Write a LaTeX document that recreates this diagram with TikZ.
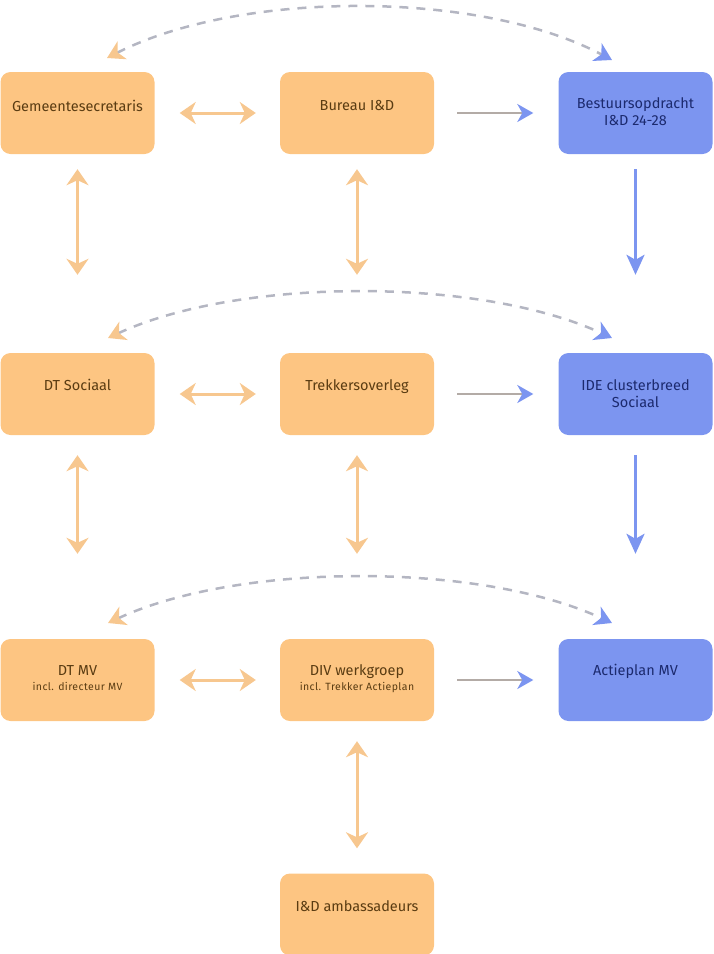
\documentclass[tikz,border=0pt]{standalone}
\usepackage{fontspec}
\setmainfont{Fira Sans}
\usetikzlibrary{arrows.meta}

\definecolor{boxorange}{HTML}{FDC582}
\definecolor{arroworange}{HTML}{F7C78F}
\definecolor{boxblue}{HTML}{7C95F0}
\definecolor{textbrown}{HTML}{5A3C12}
\definecolor{textnavy}{HTML}{1C2A6E}
\definecolor{dashgray}{HTML}{B4B6C2}
\definecolor{shaftgray}{HTML}{B3ABA6}

\newcommand{\inclnote}[1]{{\fontsize{10.5}{12}\selectfont\addfontfeature{LetterSpace=4}#1}}

\begin{document}
\begin{tikzpicture}[
    x=1pt, y=-1pt,
    box/.style={rectangle, rounded corners=10pt, fill=boxorange,
        minimum width=154pt, minimum height=82pt, inner sep=2pt,
        text=textbrown, font=\fontsize{14.5}{17}\selectfont, align=center},
    bluebox/.style={box, fill=boxblue, text=textnavy},
    twoway/.style={arroworange, line width=3pt,
        {Stealth[length=16pt, width=22pt, inset=5pt]}-{Stealth[length=16pt, width=22pt, inset=5pt]}},
    oneway/.style={shaftgray, line width=2.5pt,
        -{Stealth[length=16pt, width=18pt, inset=5pt, color=boxblue]}},
    down/.style={boxblue, line width=3pt,
        -{Stealth[length=20pt, width=18pt, inset=5pt]}},
    feedback/.style={dashgray, line width=2.5pt, dash pattern=on 9pt off 8pt,
        {Stealth[length=17pt, width=20pt, inset=5pt, color=arroworange]}-{Stealth[length=17pt, width=20pt, inset=5pt, color=boxblue]}}]

    \useasboundingbox (0,0) rectangle (714,954);

    % top row
    \node[box] (gs) at (77.5,113) {Gemeentesecretaris\\[-3pt]};
    \node[box] (bureau) at (357,113) {Bureau I\&D\\[-2pt]};
    \node[bluebox] (opdracht) at (635.5,113) {Bestuursopdracht\\I\&D 24-28\\[-14pt]};

    % middle row
    \node[box] (dts) at (77.5,394) {DT Sociaal\\[2pt]};
    \node[box] (trekkers) at (357,394) {Trekkersoverleg\\[0pt]};
    \node[bluebox] (ide) at (635.5,394) {IDE clusterbreed\\Sociaal};

    % bottom row
    \node[box] (dtmv) at (77.5,680) {DT MV\\[-2pt]\inclnote{incl. directeur MV}\\[-12pt]};
    \node[box] (div) at (357,680) {DIV werkgroep\\[-2pt]\inclnote{incl. Trekker Actieplan}\\[-12pt]};
    \node[bluebox] (actieplan) at (635.5,680) {Actieplan MV\\[4pt]};

    % ambassadors
    \node[box] (amb) at (357,914.5) {I\&D ambassadeurs\\[0pt]};

    % horizontal links
    \draw[twoway, shorten <=25pt, shorten >=24pt] (gs) -- (bureau);
    \draw[twoway, shorten <=25pt, shorten >=24pt] (dts) -- (trekkers);
    \draw[twoway, shorten <=25pt, shorten >=24pt] (dtmv) -- (div);
    \draw[oneway, shorten <=23pt, shorten >=25pt] (bureau) -- (opdracht);
    \draw[oneway, shorten <=23pt, shorten >=25pt] (trekkers) -- (ide);
    \draw[oneway, shorten <=23pt, shorten >=25pt] (div) -- (actieplan);

    % vertical links
    \draw[twoway, shorten <=15pt, shorten >=78pt] (gs) -- (dts);
    \draw[twoway, shorten <=15pt, shorten >=78pt] (bureau) -- (trekkers);
    \draw[twoway, shorten <=20pt, shorten >=85pt] (dts) -- (dtmv);
    \draw[twoway, shorten <=20pt, shorten >=85pt] (trekkers) -- (div);
    \draw[twoway, shorten <=20pt, shorten >=25pt] (div) -- (amb);
    \draw[down, shorten <=15pt, shorten >=78pt] (opdracht) -- (ide);
    \draw[down, shorten <=20pt, shorten >=85pt] (ide) -- (actieplan);

    % feedback arcs
    \coordinate (fa1) at (107,58);
    \coordinate (fb1) at (612,60);
    \coordinate (fa2) at (108,338);
    \coordinate (fb2) at (612,338);
    \coordinate (fa3) at (108,623);
    \coordinate (fb3) at (612,623);
    \draw[feedback] (fa1) .. controls (240,-10) and (480,-10) .. (fb1);
    \draw[feedback] (fa2) .. controls (240,277) and (480,277) .. (fb2);
    \draw[feedback] (fa3) .. controls (240,562) and (480,562) .. (fb3);

\end{tikzpicture}
\end{document}
